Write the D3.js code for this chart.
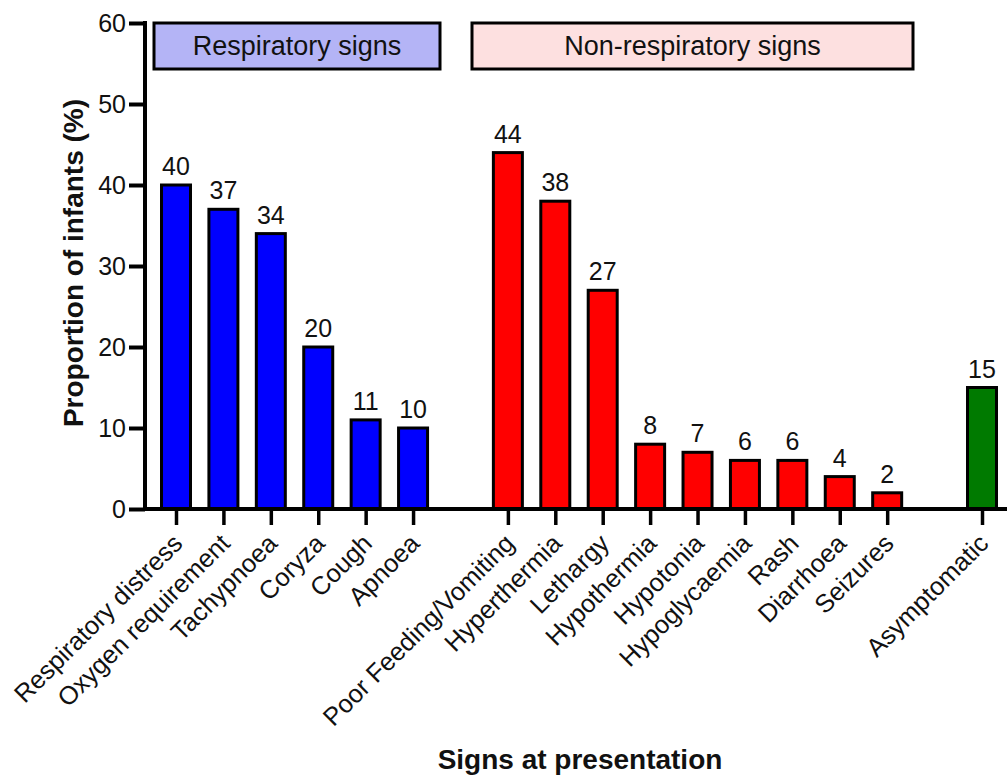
<!DOCTYPE html>
<html><head><meta charset="utf-8">
<script src="https://cdn.jsdelivr.net/npm/d3@7"></script>
<style>body{margin:0;background:#fff}text{font-family:"Liberation Sans",Arial,sans-serif}</style>
</head><body><svg id="c" width="1007" height="780"></svg>
<script>
const categories = ["Respiratory distress","Oxygen requirement","Tachypnoea","Coryza","Cough","Apnoea",
  "Poor Feeding/Vomiting","Hyperthermia","Lethargy","Hypothermia","Hypotonia","Hypoglycaemia","Rash","Diarrhoea","Seizures",
  "Asymptomatic"];
const values = [40,37,34,20,11,10, 44,38,27,8,7,6,6,4,2, 15];
const groups = ["resp","resp","resp","resp","resp","resp","non","non","non","non","non","non","non","non","non","asym"];
const slots = [0,1,2,3,4,5, 7,8,9,10,11,12,13,14,15, 17];
const yTicks = [0,10,20,30,40,50,60];
const groupLabels = ["Respiratory signs","Non-respiratory signs"];
const groupColors = {resp:"#0000ff", non:"#ff0000", asym:"#007a00"};

const svg = d3.select("#c");
const x = d3.scaleLinear().domain([0,17]).range([176,982]);
const y = d3.scaleLinear().domain([0,60]).range([509,23]);
const bw = 29;

// bars
svg.selectAll("rect.bar").data(values).enter().append("rect")
  .attr("x",(d,i)=>x(slots[i])-bw/2).attr("y",d=>y(d))
  .attr("width",bw).attr("height",d=>y(0)-y(d))
  .attr("fill",(d,i)=>groupColors[groups[i]]).attr("stroke","#000").attr("stroke-width",3);

// value labels
svg.selectAll("text.val").data(values).enter().append("text")
  .attr("x",(d,i)=>x(slots[i])).attr("y",d=>y(d)-10)
  .attr("text-anchor","middle").style("font-size","25px").attr("fill","#111").text(d=>d);

// y axis
const ya = svg.append("g").attr("transform","translate(145,0)")
  .call(d3.axisLeft(y).tickValues(yTicks).tickSize(16).tickPadding(3));
ya.select(".domain").attr("stroke-width",4).attr("d",`M0,${y(60)-2}V${y(0)}`);
ya.selectAll(".tick line").attr("stroke-width",4);
ya.selectAll(".tick text").style("font-size","25px").attr("fill","#111").style("font-family","Liberation Sans, Arial, sans-serif");

// x axis
const xa = svg.append("g").attr("transform",`translate(0,${y(0)})`)
  .call(d3.axisBottom(x).tickValues(slots).tickSize(16).tickFormat(""));
xa.select(".domain").attr("stroke-width",4).attr("d","M143,0H1007");
xa.selectAll(".tick line").attr("stroke-width",3.5);

// x tick labels
svg.selectAll("text.xl").data(categories).enter().append("text")
  .attr("transform",(d,i)=>`translate(${x(slots[i])+8},${y(0)+36}) rotate(-45)`)
  .attr("text-anchor","end").style("font-size","25.5px").attr("fill","#111").text(d=>d);

// group boxes
const boxes = [{x0:154,x1:440,fill:"#b4b4f6",label:groupLabels[0]},{x0:472,x1:913,fill:"#fde0e0",label:groupLabels[1]}];
svg.selectAll("rect.box").data(boxes).enter().append("rect")
  .attr("x",d=>d.x0).attr("y",23).attr("width",d=>d.x1-d.x0).attr("height",46)
  .attr("fill",d=>d.fill).attr("stroke","#000").attr("stroke-width",3);
svg.selectAll("text.box").data(boxes).enter().append("text")
  .attr("x",d=>(d.x0+d.x1)/2).attr("y",55).attr("text-anchor","middle")
  .style("font-size","27px").attr("fill","#111").text(d=>d.label);

// axis titles
svg.append("text").attr("transform","translate(83,263) rotate(-90)").attr("text-anchor","middle")
  .style("font-size","28px").attr("font-weight","bold").attr("fill","#111").text("Proportion of infants (%)");
svg.append("text").attr("x",580).attr("y",769).attr("text-anchor","middle")
  .style("font-size","28px").attr("font-weight","bold").attr("fill","#111").text("Signs at presentation");
</script></body></html>
